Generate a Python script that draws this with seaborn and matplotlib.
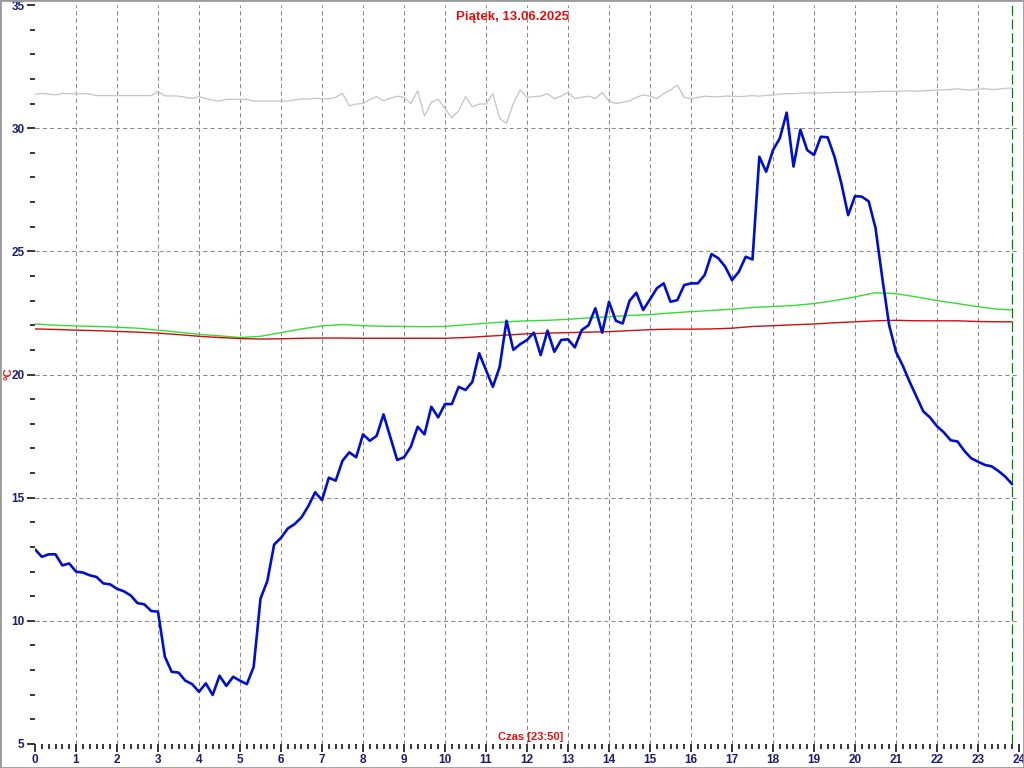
import numpy as np
import pandas as pd
import matplotlib
matplotlib.use("Agg")
import matplotlib.pyplot as plt
from matplotlib.ticker import MultipleLocator, FixedLocator
from matplotlib.patches import Rectangle
import seaborn as sns

# ---------------- data ----------------
title = "Piątek, 13.06.2025"
xlabel_txt = "Czas [23:50]"
ylabel_txt = "°C"
x_ticks = list(range(0, 25))
y_ticks = [5, 10, 15, 20, 25, 30, 35]
last_time_h = 23 + 50 / 60

# 10-minute samples 00:00 .. 23:50
minutes = np.arange(0, 1440, 10)

temp_out = [
    12.9, 12.6, 12.7, 12.7, 12.25, 12.33, 12.0, 11.96, 11.85, 11.78,
    11.52, 11.48, 11.3, 11.2, 11.03, 10.72, 10.67, 10.4, 10.37, 8.55,
    7.93, 7.9, 7.57, 7.43, 7.12, 7.46, 6.99, 7.77, 7.36, 7.73,
    7.57, 7.43, 8.13, 10.9, 11.62, 13.1, 13.37, 13.75, 13.93, 14.2,
    14.66, 15.22, 14.9, 15.81, 15.69, 16.5, 16.84, 16.64, 17.57, 17.31,
    17.51, 18.38, 17.45, 16.53, 16.64, 17.07, 17.88, 17.57, 18.69, 18.26,
    18.8, 18.8, 19.5, 19.37, 19.7, 20.86, 20.18, 19.5, 20.31, 22.18,
    21.0, 21.23, 21.4, 21.7, 20.79, 21.78, 20.92, 21.4, 21.43, 21.1,
    21.8, 22.0, 22.69, 21.7, 22.95, 22.18, 22.07, 22.99, 23.32, 22.62,
    23.05, 23.5, 23.7, 22.95, 23.02, 23.63, 23.7, 23.7, 24.04, 24.89,
    24.72, 24.38, 23.83, 24.17, 24.78, 24.67, 28.84, 28.23, 29.11, 29.59,
    30.63, 28.44, 29.94, 29.11, 28.91, 29.65, 29.63, 28.84, 27.76, 26.47,
    27.24, 27.22, 27.03, 25.95, 23.9, 22.0, 20.92, 20.35, 19.7, 19.1,
    18.5, 18.25, 17.9, 17.65, 17.33, 17.28, 16.9, 16.6, 16.46, 16.33,
    16.27, 16.08, 15.85, 15.55,
]

temp_gray = [
    31.37, 31.41, 31.38, 31.35, 31.41, 31.4, 31.4, 31.4, 31.39, 31.32,
    31.32, 31.32, 31.32, 31.32, 31.32, 31.32, 31.32, 31.32, 31.5, 31.31,
    31.31, 31.3, 31.25, 31.21, 31.28, 31.2, 31.14, 31.1, 31.17, 31.17,
    31.17, 31.17, 31.1, 31.1, 31.1, 31.1, 31.1, 31.1, 31.15, 31.18,
    31.18, 31.21, 31.2, 31.19, 31.25, 31.41, 30.9, 30.98, 31.0, 31.16,
    31.28, 31.11, 31.22, 31.3, 31.25, 31.0, 31.52, 30.49, 31.05, 31.17,
    30.8, 30.42, 30.7, 31.28, 30.87, 30.98, 30.98, 31.4, 30.4, 30.2,
    31.0, 31.55, 31.25, 31.28, 31.3, 31.4, 31.2, 31.3, 31.45, 31.2,
    31.25, 31.3, 31.2, 31.45, 31.1, 31.0, 31.05, 31.1, 31.25, 31.35,
    31.3, 31.2, 31.4, 31.55, 31.75, 31.25, 31.2, 31.25, 31.3, 31.28,
    31.27, 31.3, 31.3, 31.28, 31.3, 31.32, 31.3, 31.33, 31.35, 31.38,
    31.4, 31.4, 31.42, 31.43, 31.42, 31.43, 31.44, 31.45, 31.45, 31.46,
    31.47, 31.46, 31.48, 31.48, 31.5, 31.49, 31.5, 31.5, 31.52, 31.5,
    31.52, 31.53, 31.55, 31.55, 31.57, 31.6, 31.56, 31.55, 31.58, 31.6,
    31.57, 31.58, 31.62, 31.63,
]

# 30-minute samples for the smooth indoor series (last one at 23:50)
slow_hours = [h / 2 for h in range(48)] + [last_time_h]

temp_green = [
    22.05, 22.0, 21.97, 21.95, 21.92, 21.88, 21.8, 21.72, 21.63, 21.57,
    21.5, 21.55, 21.7, 21.85, 21.97, 22.03, 21.98, 21.96, 21.95, 21.94,
    21.95, 22.02, 22.08, 22.14, 22.18, 22.2, 22.24, 22.3, 22.34, 22.4,
    22.43, 22.5, 22.55, 22.6, 22.65, 22.72, 22.76, 22.8, 22.88, 23.0,
    23.15, 23.32, 23.28, 23.15, 23.0, 22.88, 22.75, 22.65, 22.62,
]

temp_red = [
    21.85, 21.83, 21.8, 21.78, 21.75, 21.72, 21.68, 21.62, 21.55, 21.5,
    21.46, 21.44, 21.45, 21.47, 21.48, 21.48, 21.47, 21.47, 21.47, 21.47,
    21.47, 21.5, 21.55, 21.6, 21.65, 21.68, 21.7, 21.72, 21.74, 21.78,
    21.82, 21.84, 21.84, 21.85, 21.88, 21.95, 21.98, 22.02, 22.05, 22.1,
    22.14, 22.18, 22.2, 22.18, 22.18, 22.18, 22.15, 22.14, 22.14,
]

# ---------------- figure ----------------
sns.set_style("white")
plt.rcParams["font.family"] = ["Liberation Sans", "DejaVu Sans"]

fig = plt.figure(figsize=(10.24, 7.68), dpi=100)
ax = fig.add_axes([35 / 1024, 1 - 744 / 768, 984 / 1024, 739 / 768])
ax.set_facecolor("white")

fast = pd.DataFrame({"h": minutes / 60.0, "out": temp_out, "gray": temp_gray})
slow = pd.DataFrame({"h": slow_hours, "green": temp_green, "red": temp_red})

# grid lines (hour / 5 degree), dashed gray
for h in x_ticks[1:-1]:
    ax.axvline(h, color="#8a8a8a", lw=0.75, ls=(0, (4, 3)), zorder=0)
for v in y_ticks[1:-1]:
    ax.axhline(v, color="#8a8a8a", lw=0.75, ls=(0, (4, 3)), zorder=0)

sns.lineplot(data=fast, x="h", y="gray", ax=ax, color="#c4c4c4", lw=0.9)
sns.lineplot(data=slow, x="h", y="green", ax=ax, color="#33dd33", lw=1.0)
sns.lineplot(data=slow, x="h", y="red", ax=ax, color="#c81010", lw=1.0)
sns.lineplot(data=fast, x="h", y="out", ax=ax, color="#0010c8", lw=1.9)

ax.axvline(last_time_h, color="#008000", lw=0.9, ls=(0, (8, 3)), zorder=3)

ax.set_xlim(0, 24)
ax.set_ylim(5, 35)
for s in ax.spines.values():
    s.set_visible(False)

ax.xaxis.set_major_locator(FixedLocator(x_ticks))
ax.xaxis.set_minor_locator(MultipleLocator(1 / 6))
ax.yaxis.set_major_locator(FixedLocator(y_ticks))
ax.yaxis.set_minor_locator(MultipleLocator(1))
ax.set_xticklabels([str(t) for t in x_ticks])
ax.set_yticklabels([str(t) for t in y_ticks])

ax.tick_params(axis="both", which="major", direction="out", length=6,
               width=1.1, color="black", labelsize=8.5, labelcolor="#1c1c78",
               bottom=True, left=True, pad=1.5)
ax.tick_params(axis="both", which="minor", direction="out", length=3.5,
               width=1.1, color="black", bottom=True, left=True)
for lab in ax.get_xticklabels() + ax.get_yticklabels():
    lab.set_fontweight("bold")

ax.set_xlabel("")
ax.set_ylabel("")

fig.text(0.5, 1 - 17 / 768, title, color="#e01010", fontsize=9.5,
         fontweight="bold", ha="center", va="center")
fig.text(531 / 1024, 1 - 737 / 768, xlabel_txt, color="#e01010",
         fontsize=8, fontweight="bold", ha="center", va="center")
fig.text(8 / 1024, 1 - 374 / 768, ylabel_txt, color="#e01010",
         fontsize=8, fontweight="bold", ha="center", va="center", rotation=90)

fig.add_artist(Rectangle((0, 0), 1, 1, transform=fig.transFigure,
                         fill=False, edgecolor="#9a9a9a", lw=2))

fig.savefig("out.png", dpi=100)
